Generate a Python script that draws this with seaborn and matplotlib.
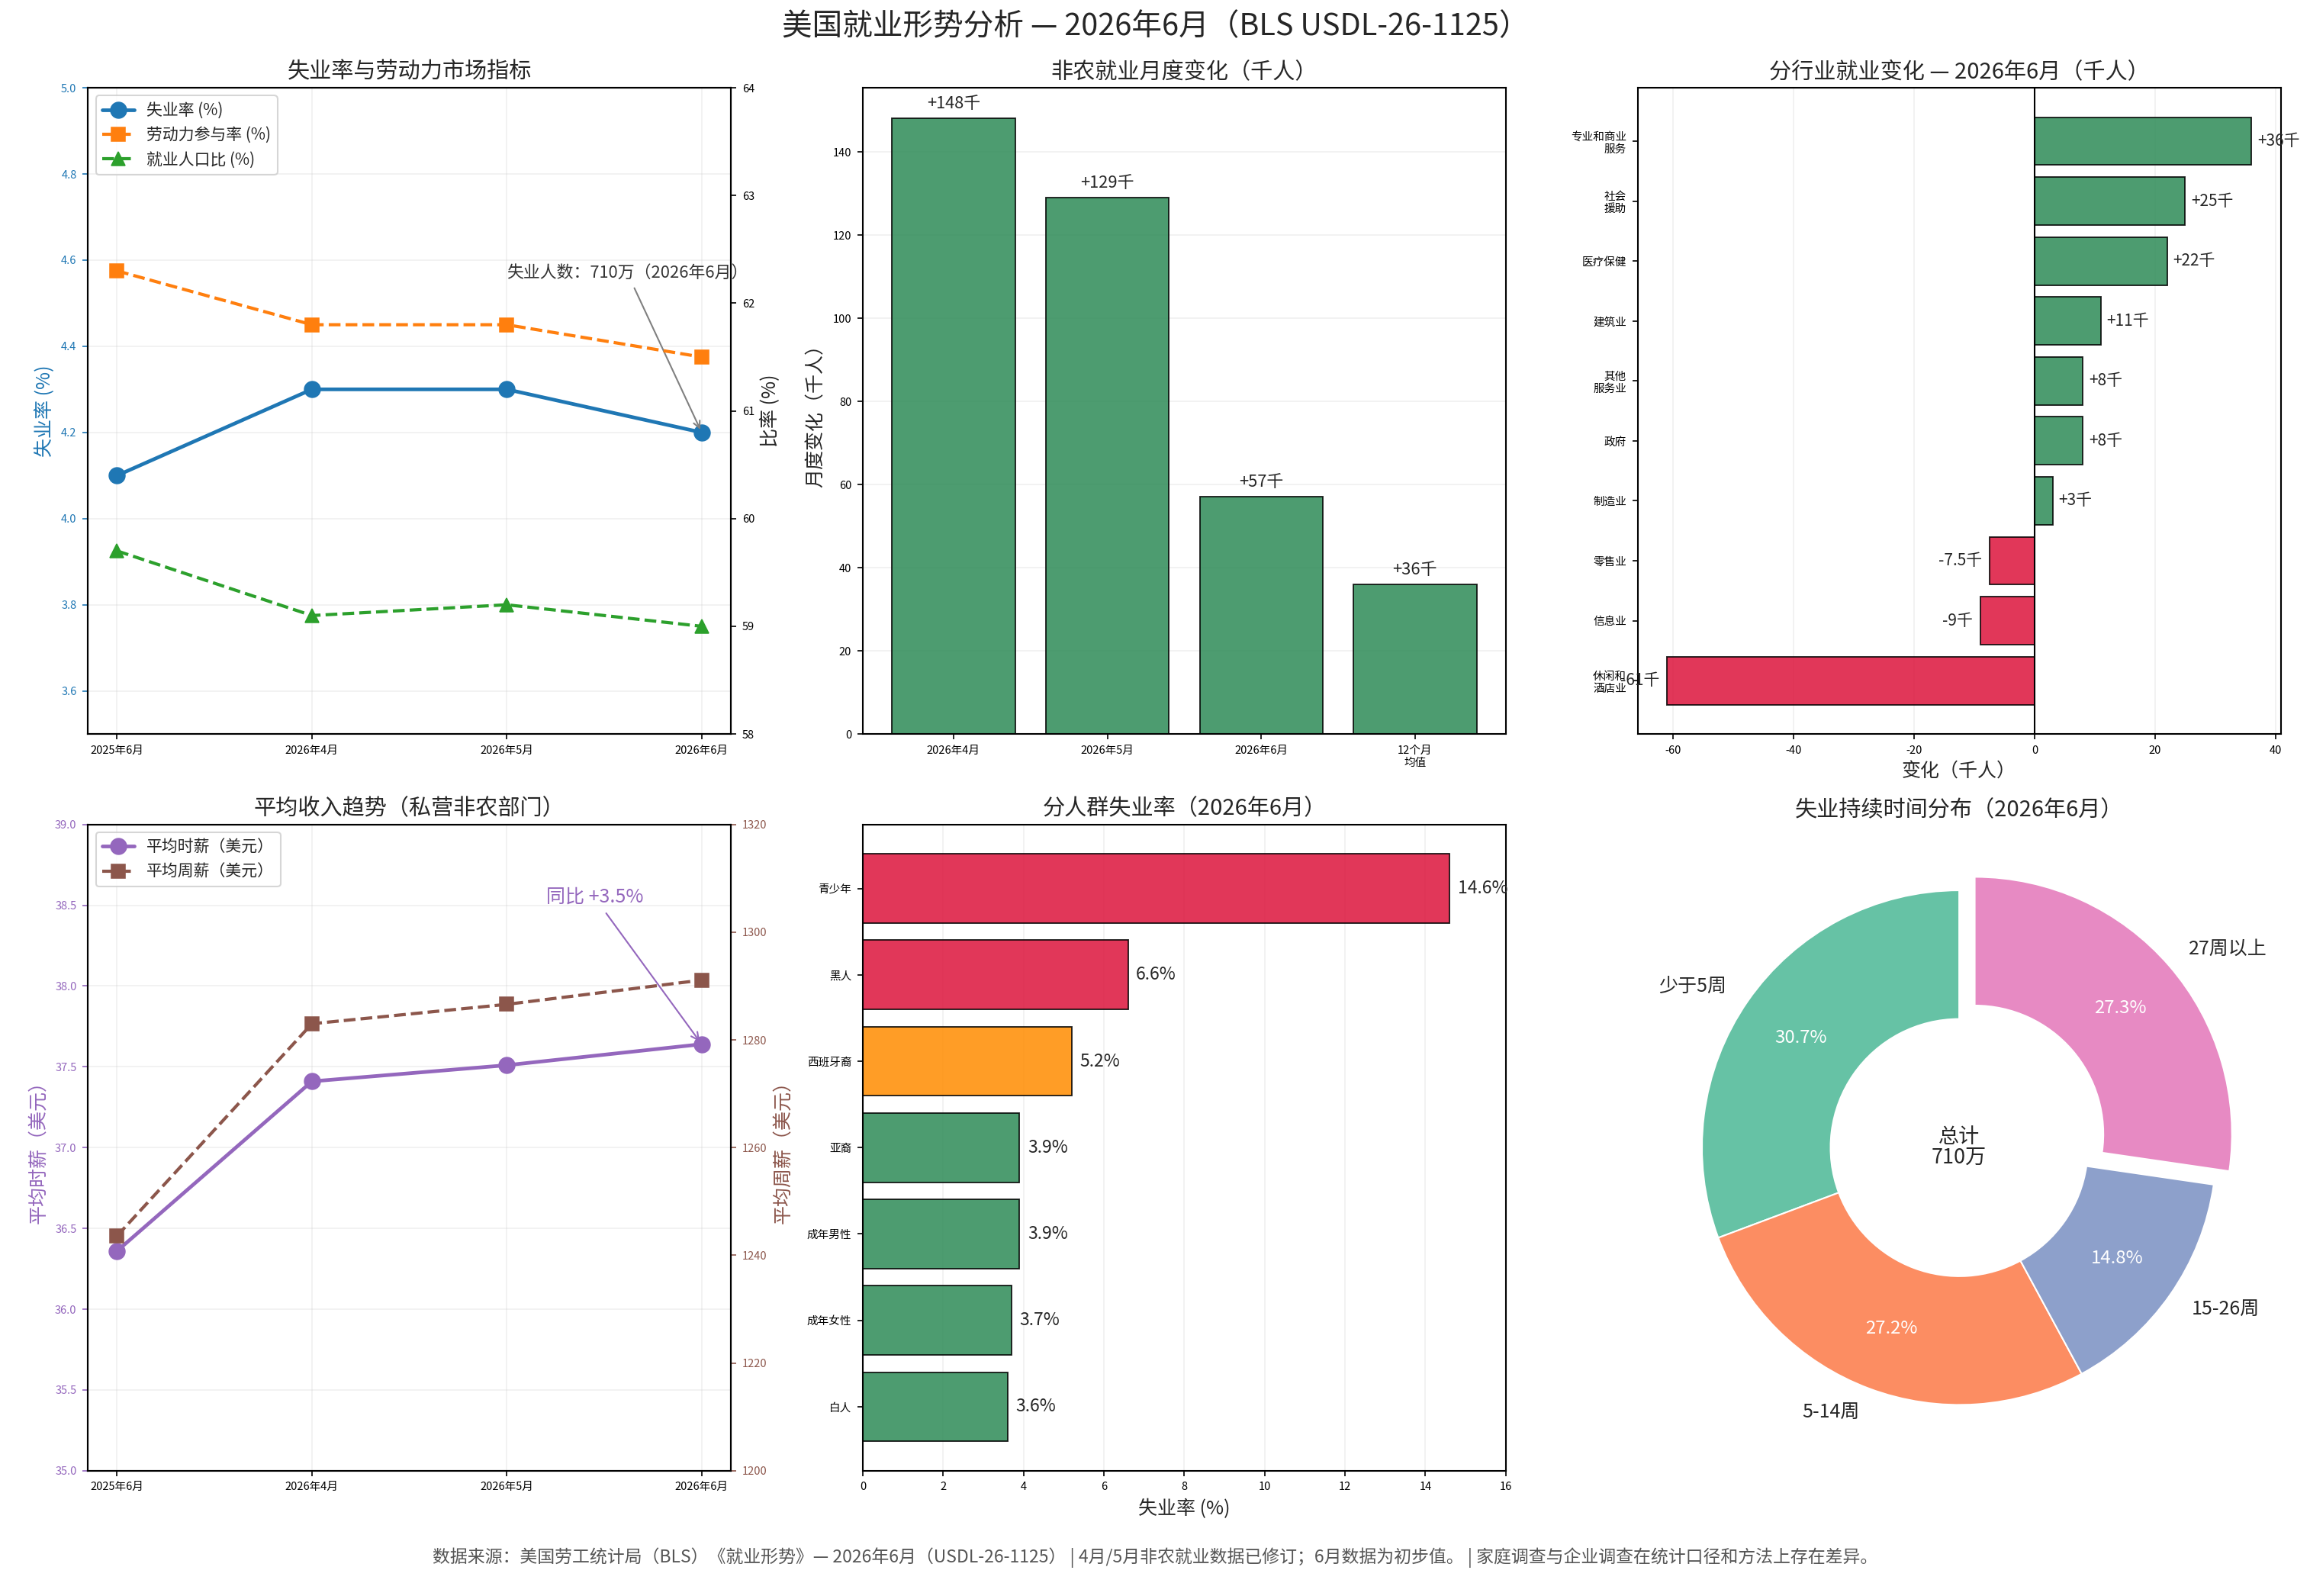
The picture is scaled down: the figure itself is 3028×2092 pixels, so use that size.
import matplotlib
matplotlib.use("Agg")
import matplotlib.pyplot as plt
import seaborn as sns
import numpy as np

# ---------------- data ----------------
months = ["2025年6月", "2026年4月", "2026年5月", "2026年6月"]
unemp_rate = [4.1, 4.3, 4.3, 4.2]
lfpr = [62.3, 61.8, 61.8, 61.5]
epop = [59.7, 59.1, 59.2, 59.0]

nfp_cats = ["2026年4月", "2026年5月", "2026年6月", "12个月\n均值"]
nfp_vals = [148, 129, 57, 36]

ind_cats = ["专业和商业\n服务", "社会\n援助", "医疗保健", "建筑业", "其他\n服务业",
            "政府", "制造业", "零售业", "信息业", "休闲和\n酒店业"]
ind_vals = [36, 25, 22, 11, 8, 8, 3, -7.5, -9, -61]

hourly = [36.36, 37.41, 37.51, 37.64]
weekly = [1243.6, 1283.0, 1286.6, 1291.1]

demo_cats = ["青少年", "黑人", "西班牙裔", "亚裔", "成年男性", "成年女性", "白人"]
demo_vals = [14.6, 6.6, 5.2, 3.9, 3.9, 3.7, 3.6]

dur_labels = ["少于5周", "5-14周", "15-26周", "27周以上"]
dur_pcts = [30.7, 27.2, 14.8, 27.3]
total_text = "总计\n710万"

# ---------------- style ----------------
sns.set_style("ticks")
plt.rcParams['font.family'] = ['Noto Sans CJK SC', 'DejaVu Sans']
plt.rcParams['axes.unicode_minus'] = False
plt.rcParams['axes.edgecolor'] = 'black'
plt.rcParams['xtick.color'] = 'black'
plt.rcParams['ytick.color'] = 'black'
plt.rcParams['axes.linewidth'] = 1.0

GREEN = "#2e8b57"
RED = "#dc143c"
ORANGE = "#ff8c00"
C_BLUE, C_ORANGE, C_GREEN = "#1f77b4", "#ff7f0e", "#2ca02c"
C_PURPLE, C_BROWN = "#9467bd", "#8c564b"

fig = plt.figure(figsize=(3029 / 150, 2092 / 150), dpi=150)
axes = fig.subplots(2, 3)
fig.subplots_adjust(left=0.038, right=0.987, top=0.945, bottom=0.0785,
                    wspace=0.205, hspace=0.14)

TICK = 7
TITLE = 14
LABEL = 12
xi = list(range(len(months)))

# ---------- panel 1: unemployment & LF ----------
ax = axes[0, 0]
ax2 = ax.twinx()
sns.lineplot(x=xi, y=unemp_rate, ax=ax, color=C_BLUE, marker='o', markersize=10,
             linewidth=2.3, markeredgecolor=C_BLUE, label="失业率 (%)", legend=False)
sns.lineplot(x=xi, y=lfpr, ax=ax2, color=C_ORANGE, marker='s', markersize=8.5,
             linewidth=2, linestyle='--', markeredgecolor=C_ORANGE,
             label="劳动力参与率 (%)", legend=False)
sns.lineplot(x=xi, y=epop, ax=ax2, color=C_GREEN, marker='^', markersize=8.5,
             linewidth=2, linestyle='--', markeredgecolor=C_GREEN,
             label="就业人口比 (%)", legend=False)
ax.set_ylim(3.5, 5.0)
ax2.set_ylim(58, 64)
ax.set_xticks(xi)
ax.set_xticklabels(months)
ax.tick_params(axis='x', labelsize=TICK)
ax.tick_params(axis='y', labelsize=TICK, colors=C_BLUE)
ax2.tick_params(axis='y', labelsize=TICK)
ax.set_ylabel("失业率 (%)", color=C_BLUE, fontsize=LABEL)
ax2.set_ylabel("比率 (%)", fontsize=LABEL)
ax.set_title("失业率与劳动力市场指标", fontsize=TITLE)
ax.grid(True, alpha=0.3)
h1, l1 = ax.get_legend_handles_labels()
h2, l2 = ax2.get_legend_handles_labels()
ax.legend(h1 + h2, l1 + l2, loc='upper left', fontsize=10)
ax.annotate("失业人数：710万（2026年6月）", xy=(3, unemp_rate[3]), xytext=(2.0, 4.55),
            ha='left', va='bottom', fontsize=10.5, color='#333333',
            arrowprops=dict(arrowstyle='->', color='gray', lw=1))

# ---------- panel 2: NFP ----------
ax = axes[0, 1]
sns.barplot(x=nfp_cats, y=nfp_vals, ax=ax, color=GREEN, saturation=1, alpha=0.85,
            edgecolor='black', linewidth=0.9, width=0.8)
ax.set_xlim(-0.59, len(nfp_cats) - 1 + 0.59)
ax.set_ylim(0, max(nfp_vals) * 1.05)
for i, v in enumerate(nfp_vals):
    ax.text(i, v + 1.5, f"+{v}千", ha='center', va='bottom', fontsize=10.5)
ax.set_title("非农就业月度变化（千人）", fontsize=TITLE)
ax.set_ylabel("月度变化（千人）", fontsize=LABEL)
ax.set_xlabel("")
ax.tick_params(labelsize=TICK)
ax.yaxis.grid(True, alpha=0.3)
ax.set_axisbelow(True)

# ---------- panel 3: industries ----------
ax = axes[0, 2]
ind_colors = {c: (GREEN if v >= 0 else RED) for c, v in zip(ind_cats, ind_vals)}
sns.barplot(x=ind_vals, y=ind_cats, hue=ind_cats, palette=ind_colors, legend=False,
            ax=ax, saturation=1, alpha=0.85, edgecolor='black', linewidth=0.9,
            orient='h', width=0.8)
n = len(ind_cats)
ax.set_ylim(n - 1 + 0.89, -0.89)
rng = max(ind_vals) - min(ind_vals)
ax.set_xlim(min(ind_vals) - 0.05 * rng, max(ind_vals) + 0.05 * rng)
ax.axvline(0, color='black', lw=1)
for i, v in enumerate(ind_vals):
    if v >= 0:
        ax.text(v + 1, i, f"+{v:g}千", ha='left', va='center', fontsize=10)
    else:
        ax.text(v - 1.2, i, f"{v:g}千", ha='right', va='center', fontsize=10)
ax.set_title("分行业就业变化 — 2026年6月（千人）", fontsize=TITLE)
ax.set_xlabel("变化（千人）", fontsize=LABEL)
ax.set_ylabel("")
ax.tick_params(axis='y', labelsize=7)
ax.tick_params(axis='x', labelsize=TICK)
ax.xaxis.grid(True, alpha=0.3)
ax.set_axisbelow(True)

# ---------- panel 4: earnings ----------
ax = axes[1, 0]
ax2 = ax.twinx()
sns.lineplot(x=xi, y=hourly, ax=ax, color=C_PURPLE, marker='o', markersize=10,
             linewidth=2.3, markeredgecolor=C_PURPLE, label="平均时薪（美元）", legend=False)
sns.lineplot(x=xi, y=weekly, ax=ax2, color=C_BROWN, marker='s', markersize=8.5,
             linewidth=2, linestyle='--', markeredgecolor=C_BROWN,
             label="平均周薪（美元）", legend=False)
ax.set_ylim(35.0, 39.0)
ax2.set_ylim(1200, 1320)
ax.set_xticks(xi)
ax.set_xticklabels(months)
ax.tick_params(axis='x', labelsize=TICK)
ax.tick_params(axis='y', labelsize=TICK, colors=C_PURPLE)
ax2.tick_params(axis='y', labelsize=TICK, colors=C_BROWN)
ax.set_ylabel("平均时薪（美元）", color=C_PURPLE, fontsize=LABEL)
ax2.set_ylabel("平均周薪（美元）", color=C_BROWN, fontsize=LABEL)
ax.set_title("平均收入趋势（私营非农部门）", fontsize=TITLE)
ax.grid(True, alpha=0.3)
h1, l1 = ax.get_legend_handles_labels()
h2, l2 = ax2.get_legend_handles_labels()
ax.legend(h1 + h2, l1 + l2, loc='upper left', fontsize=10)
ax.annotate("同比 +3.5%", xy=(3, hourly[3]), xytext=(2.45, 38.55),
            ha='center', va='center', fontsize=12, color=C_PURPLE,
            arrowprops=dict(arrowstyle='->', color=C_PURPLE, lw=1))

# ---------- panel 5: demographics ----------
ax = axes[1, 1]
demo_colors = {c: (RED if v >= 6 else (ORANGE if v >= 4.5 else GREEN))
               for c, v in zip(demo_cats, demo_vals)}
sns.barplot(x=demo_vals, y=demo_cats, hue=demo_cats, palette=demo_colors, legend=False,
            ax=ax, saturation=1, alpha=0.85, edgecolor='black', linewidth=0.9,
            orient='h', width=0.8)
n = len(demo_cats)
ax.set_ylim(n - 1 + 0.74, -0.74)
ax.set_xlim(0, 16)
for i, v in enumerate(demo_vals):
    ax.text(v + 0.2, i, f"{v:.1f}%", ha='left', va='center', fontsize=11)
ax.set_title("分人群失业率（2026年6月）", fontsize=TITLE)
ax.set_xlabel("失业率 (%)", fontsize=LABEL)
ax.set_ylabel("")
ax.tick_params(labelsize=TICK)
ax.xaxis.grid(True, alpha=0.3)
ax.set_axisbelow(True)

# ---------- panel 6: duration donut ----------
ax = axes[1, 2]
pie_colors = sns.color_palette("Set2", len(dur_pcts))
wedges, texts, autotexts = ax.pie(
    dur_pcts, labels=dur_labels, colors=pie_colors, autopct='%1.1f%%',
    startangle=90, explode=[0, 0, 0, 0.08], pctdistance=0.75,
    wedgeprops=dict(width=0.5, edgecolor='white', linewidth=1),
    textprops=dict(fontsize=12))
for t in autotexts:
    t.set_color('white')
    t.set_fontsize(11.5)
ax.text(0, 0, total_text, ha='center', va='center', fontsize=13, linespacing=1.0)
ax.set_title("失业持续时间分布（2026年6月）", fontsize=TITLE)

# ---------- titles ----------
fig.text(0.5, 0.983, "美国就业形势分析 — 2026年6月（BLS USDL-26-1125）",
         ha='center', va='center', fontsize=19)
fig.text(0.5, 0.024,
         "数据来源：美国劳工统计局（BLS）《就业形势》— 2026年6月（USDL-26-1125） | "
         "4月/5月非农就业数据已修订；6月数据为初步值。 | 家庭调查与企业调查在统计口径和方法上存在差异。",
         ha='center', va='center', fontsize=11, color='#555555')

fig.savefig("out.png", dpi=150)
